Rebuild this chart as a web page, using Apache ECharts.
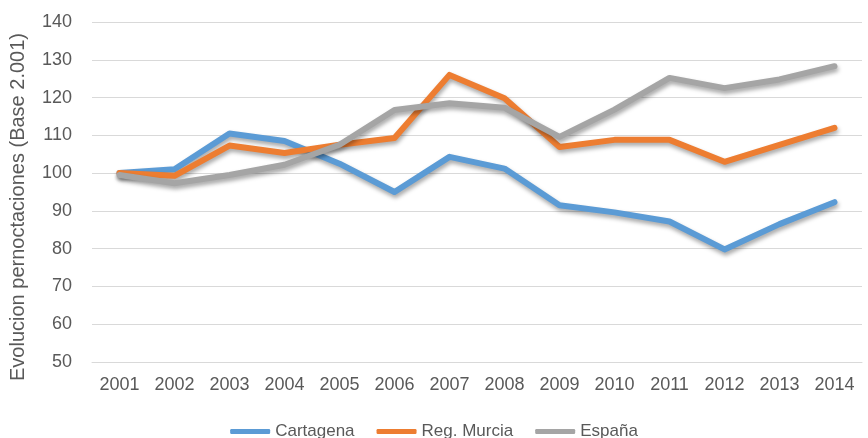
<!DOCTYPE html>
<html>
<head>
<meta charset="utf-8">
<script src="https://cdn.jsdelivr.net/npm/echarts@6/dist/echarts.min.js"></script>
<style>
  html, body { margin: 0; padding: 0; background: #fff; }
  #chart { width: 868px; height: 438px; }
</style>
</head>
<body>
<div id="chart"></div>
<script>
const years = ['2001', '2002', '2003', '2004', '2005', '2006', '2007', '2008', '2009', '2010', '2011', '2012', '2013', '2014']
const cartagena = [100, 101, 110.5, 108.5, 102.5, 95, 104.3, 101.2, 91.5, 89.6, 87.2, 79.8, 86.5, 92.3]
const murcia = [100, 99.3, 107.3, 105.3, 107.5, 109.3, 126, 119.8, 106.9, 108.8, 108.8, 103, 107.5, 112]
const espana = [99.5, 97.3, 99.5, 102.2, 107.5, 116.7, 118.5, 117.3, 109.6, 116.8, 125.2, 122.5, 124.8, 128.3]

const font = "'Liberation Sans', Arial, sans-serif"
const textColor = '#595959'

const chart = echarts.init(document.getElementById('chart'))

function lineSeries(name, data, color) {
  return {
    name,
    type: 'line',
    data,
    showSymbol: false,
    symbol: 'none',
    itemStyle: { color },
    lineStyle: {
      color,
      width: 6,
      cap: 'round',
      join: 'round',
      shadowColor: 'rgba(0,0,0,0.35)',
      shadowBlur: 4,
      shadowOffsetX: 1,
      shadowOffsetY: 3,
    },
  }
}

chart.setOption({
  animation: false,
  textStyle: { fontFamily: font },
  grid: { left: 89, right: 6, top: 22, bottom: 76 },
  legend: {
    top: 418,
    left: 'center',
    icon: 'roundRect',
    itemWidth: 40,
    itemHeight: 5,
    itemGap: 22,
    textStyle: { color: textColor, fontSize: 17, fontFamily: font },
    data: ['Cartagena', 'Reg. Murcia', 'España'],
  },
  xAxis: {
    type: 'category',
    data: years,
    boundaryGap: true,
    axisLine: { show: true, lineStyle: { color: '#d9d9d9', width: 1 } },
    axisTick: { show: false },
    axisLabel: { color: textColor, fontSize: 18, margin: 14, fontFamily: font },
  },
  yAxis: {
    type: 'value',
    min: 50,
    max: 140,
    interval: 10,
    name: 'Evolucion pernoctaciones (Base 2.001)',
    nameLocation: 'middle',
    nameGap: 64,
    nameTextStyle: { color: textColor, fontSize: 20, fontFamily: font, padding: [0, 30, 0, 0] },
    axisLine: { show: false },
    axisTick: { show: false },
    axisLabel: { color: textColor, fontSize: 18, margin: 20, fontFamily: font },
    splitLine: { lineStyle: { color: '#d9d9d9', width: 1 } },
  },
  series: [
    lineSeries('Cartagena', cartagena, '#5b9bd5'),
    lineSeries('Reg. Murcia', murcia, '#ed7d31'),
    lineSeries('España', espana, '#a5a5a5'),
  ],
})
</script>
</body>
</html>
